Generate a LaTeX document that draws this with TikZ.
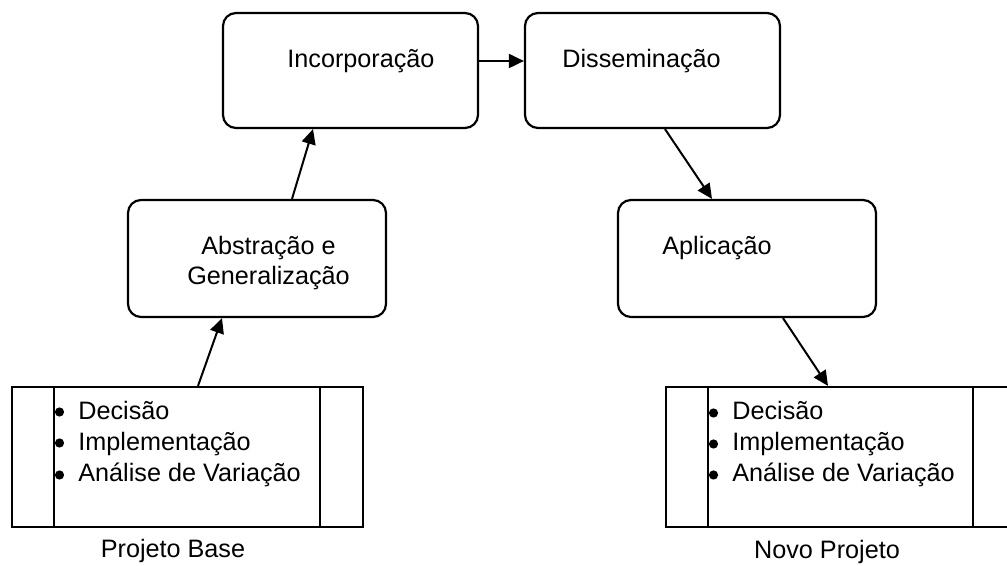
\documentclass[tikz,border=0pt]{standalone}
\usepackage{fontspec}
\setmainfont{Liberation Sans}
\usetikzlibrary{arrows.meta,calc}
\begin{document}
\begin{tikzpicture}[x=0.5pt,y=-0.5pt,
  every node/.style={font=\fontsize{12.6}{14.5}\selectfont},
  stagebox/.style={draw,line width=1.1pt,rounded corners=6.5pt,minimum width=127.5pt,minimum height=57.5pt,inner sep=0pt},
  projbox/.style={draw,line width=1.1pt,minimum width=175pt,minimum height=70pt,inner sep=0pt},
  divider/.style={line width=1.1pt},
  lbl/.style={inner sep=0pt,anchor=base west},
  clbl/.style={inner sep=0pt,anchor=base},
  bulletdot/.style={fill=black,circle,inner sep=0pt,minimum size=4.6pt},
  arr/.style={line width=1.0pt,-{Triangle[length=7.5pt,width=7pt]}}]
\useasboundingbox (0,0) rectangle (1007,566);
\clip (0,0) rectangle (1007,566);
% stage boxes
\node[stagebox] (inc) at (350.5,70.5) {};
\node[stagebox] (dis) at (652.5,70.5) {};
\node[stagebox,minimum width=129pt,minimum height=58.5pt] (abs) at (257,258.5) {};
\node[stagebox,minimum width=129pt,minimum height=58.5pt] (apl) at (747,258.5) {};
% project boxes
\node[projbox,minimum width=175.5pt] (lb) at (187.5,457) {};
\node[projbox] (rb) at (841,457) {};
\draw[divider] (lb.north -| 54,0) -- (lb.south -| 54,0);
\draw[divider] (lb.north -| 320,0) -- (lb.south -| 320,0);
\draw[divider] (rb.north -| 708,0) -- (rb.south -| 708,0);
\draw[divider] (rb.north -| 973,0) -- (rb.south -| 973,0);
% texts
\node[lbl] (tinc) at (287,68) {Incorporação};
\node[lbl] (tdis) at (562,68) {Disseminação};
\node[clbl] (tabs1) at (268.5,255) {Abstração e};
\node[clbl] (tabs2) at (268.5,285) {Generalização};
\node[lbl] (tapl) at (662,255) {Aplicação};
% left list
\node[bulletdot] (lb1) at (59.5,412) {};
\node[bulletdot] (lb2) at (59.5,443) {};
\node[bulletdot] (lb3) at (59.5,475) {};
\node[lbl] (lt1) at (78,420) {Decisão};
\node[lbl] (lt2) at (78,451) {Implementação};
\node[lbl] (lt3) at (78,482) {Análise de Variação};
% right list
\node[bulletdot] (rb1) at (713.5,413) {};
\node[bulletdot] (rb2) at (713.5,444) {};
\node[bulletdot] (rb3) at (713.5,475) {};
\node[lbl] (rt1) at (732,420) {Decisão};
\node[lbl] (rt2) at (732,451) {Implementação};
\node[lbl] (rt3) at (732,482) {Análise de Variação};
% captions
\node[clbl] (cap1) at (173,558) {Projeto Base};
\node[clbl] (cap2) at (827,559) {Novo Projeto};
% connectors
\draw[arr] ($(lb.north)+(10.5,0)$) -- ($(abs.south)+(-35,0)$);
\draw[arr] ($(abs.north)+(35,0)$) -- ($(inc.south)+(-37.5,0)$);
\draw[arr] ($(inc.east)+(0,-9.5)$) -- ($(dis.west)+(0,-9.5)$);
\draw[arr] ($(dis.south)+(12.5,0)$) -- ($(apl.north)+(-35,0)$);
\draw[arr] ($(apl.south)+(36,0)$) -- ($(rb.north)+(-13,0)$);
\end{tikzpicture}
\end{document}
